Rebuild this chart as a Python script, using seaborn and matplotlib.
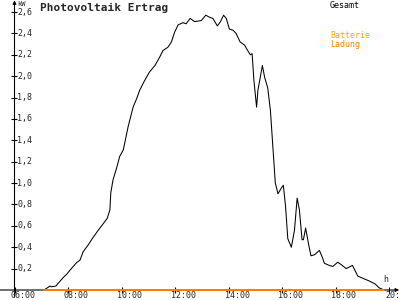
import matplotlib
matplotlib.use("Agg")
import matplotlib.pyplot as plt
import matplotlib.transforms as mtransforms
import seaborn as sns
import pandas as pd

# ---- data ----
times = ["07:06", "07:20", "07:23", "07:33", "07:38", "07:49", "07:57", "08:08", "08:19", "08:27",
         "08:34", "08:45", "08:56", "09:08", "09:19", "09:28", "09:34", "09:36", "09:41", "09:49",
         "09:56", "10:04", "10:07", "10:15", "10:26", "10:34", "10:41", "10:52", "11:03", "11:15",
         "11:26", "11:33", "11:44", "11:52", "11:59", "12:07", "12:18", "12:25", "12:34", "12:44",
         "12:59", "13:09", "13:18", "13:25", "13:35", "13:42", "13:49", "13:55", "14:02", "14:10",
         "14:17", "14:26", "14:36", "14:43", "14:49", "14:53", "14:57", "15:03", "15:06", "15:10",
         "15:16", "15:21", "15:28", "15:34", "15:39", "15:45", "15:51", "15:58", "16:03", "16:08",
         "16:13", "16:21", "16:28", "16:34", "16:39", "16:45", "16:48", "16:53", "17:00", "17:05",
         "17:13", "17:24", "17:31", "17:35", "17:46", "17:54", "18:05", "18:12", "18:24", "18:38",
         "18:50", "19:01", "19:16", "19:29", "19:38", "19:49"]
gesamt = [0.00, 0.037, 0.03, 0.037, 0.063, 0.115, 0.147, 0.203, 0.255, 0.28,
          0.358, 0.42, 0.49, 0.56, 0.62, 0.67, 0.75, 0.91, 1.03, 1.14,
          1.25, 1.31, 1.37, 1.53, 1.71, 1.79, 1.87, 1.96, 2.04, 2.10,
          2.18, 2.24, 2.27, 2.32, 2.41, 2.48, 2.50, 2.49, 2.54, 2.51,
          2.52, 2.57, 2.55, 2.54, 2.47, 2.51, 2.57, 2.54, 2.44, 2.43,
          2.40, 2.32, 2.29, 2.24, 2.20, 2.21, 1.96, 1.71, 1.87, 1.96,
          2.10, 1.99, 1.89, 1.68, 1.37, 1.00, 0.90, 0.95, 0.98, 0.78,
          0.48, 0.40, 0.56, 0.86, 0.75, 0.47, 0.47, 0.58, 0.42, 0.32,
          0.33, 0.37, 0.30, 0.25, 0.23, 0.22, 0.26, 0.24, 0.20, 0.23,
          0.13, 0.11, 0.084, 0.056, 0.02, 0.0]
ladung = [0.0] * len(times)

x_ticks = [6, 8, 10, 12, 14, 16, 18, 20]
x_tick_labels = ["06:00", "08:00", "10:00", "12:00", "14:00", "16:00", "18:00", "20:00"]
y_ticks = [0.2, 0.4, 0.6, 0.8, 1.0, 1.2, 1.4, 1.6, 1.8, 2.0, 2.2, 2.4, 2.6]
y_tick_labels = ["0,2", "0,4", "0,6", "0,8", "1,0", "1,2", "1,4", "1,6", "1,8", "2,0", "2,2", "2,4", "2,6"]

title = "Photovoltaik Ertrag"

# ---- build frame ----
hours = [int(t[:2]) + int(t[3:]) / 60 for t in times]
df = pd.DataFrame({"hour": hours, "Gesamt": gesamt, "Ladung": ladung})

sns.set_style("white")
plt.rcParams["font.family"] = ["DejaVu Sans Mono"]

fig = plt.figure(figsize=(4, 3), dpi=100)
W, H = 400, 300
x0, x1 = 14.5, 389.0
y0, y1 = 290.0, 12.0
ax = fig.add_axes([x0 / W, (H - y0) / H, (x1 - x0) / W, (y0 - y1) / H])
ax.set_xlim(6, 20)
ax.set_ylim(0, 2.6)
ax.patch.set_alpha(0)

sns.lineplot(data=df, x="hour", y="Gesamt", color="black", linewidth=0.75, ax=ax, clip_on=False)
sns.lineplot(data=df, x="hour", y="Ladung", color="#FF8000", linewidth=1.4, ax=ax, clip_on=False)
ax.set_xlabel("")
ax.set_ylabel("")

for s in ax.spines.values():
    s.set_visible(False)

# axis lines with arrows
ax.annotate("", xy=(1.027, 0), xytext=(-0.04, 0), xycoords="axes fraction",
            arrowprops=dict(arrowstyle="-|>", color="black", lw=0.8, mutation_scale=5,
                            shrinkA=0, shrinkB=0), zorder=1)
ax.annotate("", xy=(0, 1.042), xytext=(0, -0.025), xycoords="axes fraction",
            arrowprops=dict(arrowstyle="-|>", color="black", lw=0.8, mutation_scale=5,
                            shrinkA=0, shrinkB=0), zorder=1)

ax.set_xticks(x_ticks)
ax.set_yticks(y_ticks)
ax.set_xticklabels([])
ax.set_yticklabels([])
ax.tick_params(axis="both", direction="inout", length=5, width=0.8, color="black",
               bottom=True, left=True)

fs = 6
# x tick labels, left-aligned slightly left of tick
xtr = mtransforms.blended_transform_factory(ax.transData, ax.transAxes)
off = mtransforms.ScaledTranslation(-4 / 100, -1 / 100, fig.dpi_scale_trans)
for v, lab in zip(x_ticks, x_tick_labels):
    ax.text(v, 0, lab, transform=xtr + off, ha="left", va="top", fontsize=fs, clip_on=False)

ytr = mtransforms.blended_transform_factory(ax.transAxes, ax.transData)
offy = mtransforms.ScaledTranslation(3 / 100, 0, fig.dpi_scale_trans)
for v, lab in zip(y_ticks, y_tick_labels):
    ax.text(0, v, lab, transform=ytr + offy, ha="left", va="center", fontsize=fs, clip_on=False)

fig.text(17 / W, 1 - 1 / H, "kW", ha="left", va="top", fontsize=5)
fig.text(386 / W, 1 - 280 / H, "h", ha="center", va="center", fontsize=fs)

fig.text(40 / W, 1 - 8 / H, title, ha="left", va="center", fontsize=8, fontweight="bold")
fig.text(330 / W, 1 - 5 / H, "Gesamt", ha="left", va="center", fontsize=fs, color="black")
fig.text(330 / W, 1 - 36 / H, "Batterie", ha="left", va="center", fontsize=fs, color="#FFA500")
fig.text(330 / W, 1 - 44 / H, "Ladung", ha="left", va="center", fontsize=fs, color="#FF8000")

fig.savefig("out.png", dpi=100, facecolor="white")
